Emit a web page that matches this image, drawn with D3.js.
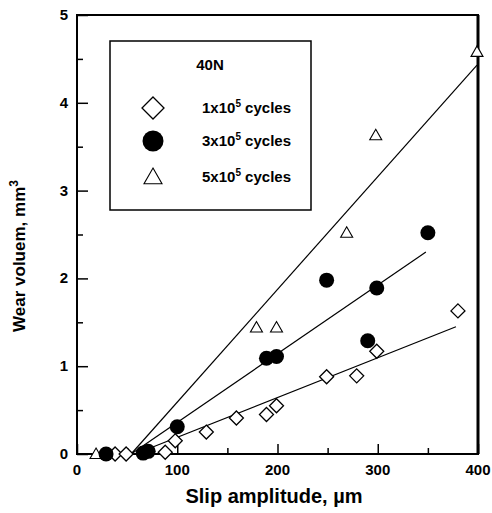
<!DOCTYPE html>
<html>
<head>
<meta charset="utf-8">
<script src="https://cdn.jsdelivr.net/npm/d3@7"></script>
<style>
  body { margin: 0; background: #fff; }
  svg { display: block; font-family: "Liberation Sans", Arial, sans-serif; font-weight: bold; }
</style>
</head>
<body>
<div id="chart"></div>
<script>
// Data
const slip1 = [38, 49, 88, 98, 129, 159, 189, 199, 249, 279, 299, 380];
const wear1 = [0, 0, 0.02, 0.15, 0.25, 0.41, 0.45, 0.55, 0.88, 0.89, 1.17, 1.63];

const slip3 = [29, 66, 71, 100, 189, 199, 249, 290, 299, 350];
const wear3 = [0, 0.01, 0.03, 0.31, 1.09, 1.11, 1.98, 1.29, 1.89, 2.52];

const slip5 = [19, 179, 199, 269, 298, 399];
const wear5 = [0, 1.44, 1.44, 2.52, 3.63, 4.58];

// fitted lines: [start, end] in data units
const fit1 = [[58, 0], [378, 1.45]];
const fit3 = [[54, 0], [348, 2.30]];
const fit5 = [[54, 0], [399, 4.43]];

const xTicks = [0, 100, 200, 300, 400];
const yTicks = [0, 1, 2, 3, 4, 5];
const legendLabels = ['1x10', '3x10', '5x10'];

const width = 492, height = 513;
const svg = d3.select('#chart').append('svg')
  .attr('width', width)
  .attr('height', height);

const x = d3.scaleLinear().domain([0, 400]).range([77, 478]);
const y = d3.scaleLinear().domain([0, 5]).range([454, 15]);

// Frame
svg.append('rect')
  .attr('x', x(0)).attr('y', y(5))
  .attr('width', x(400) - x(0)).attr('height', y(0) - y(5))
  .attr('fill', 'none').attr('stroke', '#000').attr('stroke-width', 2);
svg.append('line')
  .attr('x1', x(400)).attr('x2', x(400)).attr('y1', y(5)).attr('y2', y(0))
  .attr('stroke', '#000').attr('stroke-width', 3);

// Axes with inward ticks
const xAxis = svg.append('g')
  .attr('transform', `translate(0, ${y(0)})`)
  .call(d3.axisTop(x).tickValues(d3.range(0, 401, 50)).tickSize(6).tickFormat(''));
xAxis.select('.domain').remove();
xAxis.selectAll('.tick line').attr('stroke-width', 1.5)
  .attr('y2', d => d % 100 === 0 ? -10 : -6);

svg.append('g')
  .attr('transform', `translate(0, ${y(0)})`)
  .selectAll('text')
  .data(xTicks)
  .enter().append('text')
  .attr('x', d => x(d))
  .attr('y', 21)
  .attr('text-anchor', 'middle')
  .attr('font-size', 15)
  .text(d => d);

const yAxis = svg.append('g')
  .attr('transform', `translate(${x(0)}, 0)`)
  .call(d3.axisRight(y).tickValues(d3.range(0, 5.01, 0.5)).tickFormat(''));
yAxis.select('.domain').remove();
yAxis.selectAll('.tick line').attr('stroke-width', 1.5)
  .attr('x2', d => Number.isInteger(d) ? 11 : 6);

svg.append('g')
  .selectAll('text')
  .data(yTicks)
  .enter().append('text')
  .attr('x', 68)
  .attr('y', d => y(d) + 5)
  .attr('text-anchor', 'end')
  .attr('font-size', 15)
  .text(d => d);

// Axis titles
svg.append('text')
  .attr('x', 274).attr('y', 503)
  .attr('text-anchor', 'middle')
  .attr('font-size', 20)
  .text('Slip amplitude, µm');

const yTitle = svg.append('text')
  .attr('transform', 'translate(25, 256) rotate(-90)')
  .attr('text-anchor', 'middle')
  .attr('font-size', 17);
yTitle.append('tspan').text('Wear voluem, mm');
yTitle.append('tspan').attr('font-size', 12).attr('dy', -7).text('3');

// Fit lines
const line = d3.line().x(d => x(d[0])).y(d => y(d[1]));
[fit1, fit3, fit5].forEach(f => {
  svg.append('path')
    .datum(f)
    .attr('d', line)
    .attr('fill', 'none')
    .attr('stroke', '#000')
    .attr('stroke-width', 1.2);
});

// Symbols
function drawDiamond(g, cx, cy, r) {
  g.append('path')
    .attr('d', `M${cx},${cy - r}L${cx + r},${cy}L${cx},${cy + r}L${cx - r},${cy}Z`)
    .attr('fill', '#fff').attr('stroke', '#000').attr('stroke-width', 1.3);
}
function drawTriangle(g, cx, cy, s) {
  g.append('path')
    .attr('d', `M${cx},${cy - s}L${cx + s},${cy + s * 0.75}L${cx - s},${cy + s * 0.75}Z`)
    .attr('fill', '#fff').attr('stroke', '#000').attr('stroke-width', 1.1);
}

const marks = svg.append('g');
slip5.forEach((s, i) => drawTriangle(marks, x(s), y(wear5[i]), 6));
slip1.forEach((s, i) => drawDiamond(marks, x(s), y(wear1[i]), 7));
marks.selectAll('circle')
  .data(slip3.map((s, i) => [s, wear3[i]]))
  .enter().append('circle')
  .attr('cx', d => x(d[0]))
  .attr('cy', d => y(d[1]))
  .attr('r', 7.5)
  .attr('fill', '#000');

// Legend
const legend = svg.append('g');
legend.append('rect')
  .attr('x', 110).attr('y', 41)
  .attr('width', 201).attr('height', 169)
  .attr('fill', '#fff').attr('stroke', '#000').attr('stroke-width', 1.5);
legend.append('text')
  .attr('x', 210).attr('y', 70)
  .attr('text-anchor', 'middle')
  .attr('font-size', 15)
  .text('40N');

const rowY = [108, 141, 177];
drawDiamond(legend, 153, rowY[0], 11);
legend.append('circle').attr('cx', 153).attr('cy', rowY[1]).attr('r', 10.5).attr('fill', '#000');
drawTriangle(legend, 153, rowY[2], 9);

legendLabels.forEach((lab, i) => {
  const t = legend.append('text')
    .attr('x', 202).attr('y', rowY[i] + 5)
    .attr('font-size', 15);
  t.append('tspan').text(lab);
  t.append('tspan').attr('font-size', 10).attr('dy', -6).text('5');
  t.append('tspan').attr('dy', 6).text(' cycles');
});
</script>
</body>
</html>
